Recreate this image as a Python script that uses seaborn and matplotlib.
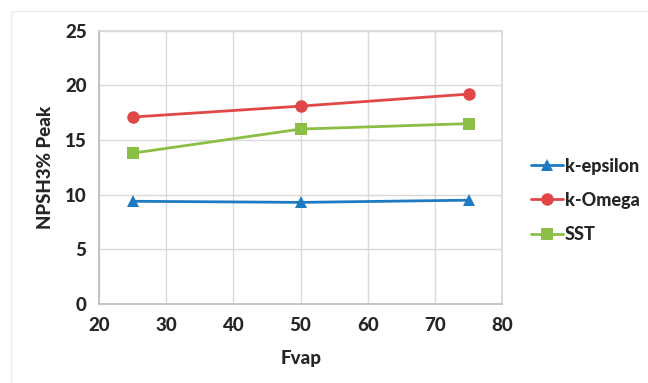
import matplotlib
matplotlib.use("Agg")
import matplotlib.pyplot as plt
import seaborn as sns
import pandas as pd
from matplotlib.patches import Rectangle

fvap = [25, 50, 75]
k_epsilon = [9.4, 9.3, 9.5]
k_omega = [17.1, 18.1, 19.2]
sst = [13.8, 16.0, 16.5]
series_names = ["k-epsilon", "k-Omega", "SST"]

df = pd.DataFrame({
    "Fvap": fvap * 3,
    "value": k_epsilon + k_omega + sst,
    "model": [series_names[0]] * 3 + [series_names[1]] * 3 + [series_names[2]] * 3,
})

sns.set_theme(style="white")
plt.rcParams['font.family'] = ['Lato', 'DejaVu Sans']

fig = plt.figure(figsize=(6.48, 3.83), dpi=100)
ax = fig.add_axes([0.153, 0.206, 0.622, 0.714])

palette = {"k-epsilon": "#1f7bc1", "k-Omega": "#e04848", "SST": "#8cbf45"}
markers = {"k-epsilon": "^", "k-Omega": "o", "SST": "s"}
sns.lineplot(data=df, x="Fvap", y="value", hue="model", style="model",
             markers=markers, dashes=False, palette=palette, ax=ax,
             linewidth=2, markersize=9, markeredgewidth=0)

ax.set_xlim(20, 80)
ax.set_ylim(0, 25)
ax.set_xticks(range(20, 81, 10))
ax.set_yticks(range(0, 26, 5))
ax.grid(True, color="#d9d9d9", linewidth=1)
for s in ax.spines.values():
    s.set_color("#d9d9d9")
ax.spines["left"].set_color("#bfbfbf")
ax.spines["bottom"].set_color("#bfbfbf")
ax.tick_params(length=0, labelsize=13.5, pad=9)
for lbl in ax.get_xticklabels() + ax.get_yticklabels():
    lbl.set_fontweight("black")
ax.set_xlabel("Fvap", fontsize=13.5, fontweight="black", labelpad=12)
ax.set_ylabel("NPSH3% Peak", fontsize=13.5, fontweight="black", labelpad=8)

leg = ax.legend(loc="center left", bbox_to_anchor=(1.03, 0.38), frameon=False,
                prop={"size": 13, "weight": "black"}, handlelength=1.8,
                handletextpad=0.1, labelspacing=0.95, title=None)

fig.patches.append(Rectangle((0.017, -0.01), 1.0, 0.98, transform=fig.transFigure,
                             fill=False, edgecolor="#ececec", linewidth=1))

fig.savefig("out.png", dpi=100)
